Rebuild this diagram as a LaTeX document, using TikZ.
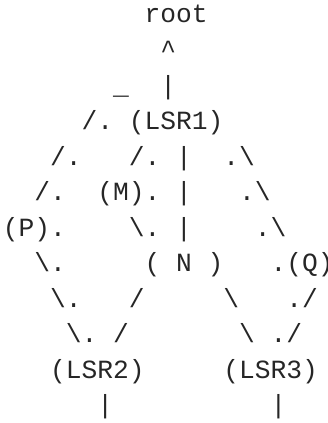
\documentclass[tikz,border=0pt]{standalone}
\usepackage{fontspec}
\setmonofont{Liberation Mono}
\begin{document}
% Monospaced tree of LSRs: one character cell is 15.75pt wide, one line 35.5pt high.
\begin{tikzpicture}[x=15.75pt, y=-35.5pt,
  txt/.style={anchor=base west, inner sep=0pt, outer sep=0pt,
              font=\ttfamily\fontsize{26.25pt}{35.5pt}\selectfont, text=black!85}]
\useasboundingbox (-2.9pt,23pt) rectangle (325.1pt,-400pt);
% row 0-3: root and LSR1
\node[txt] (root) at (9,0) {root};
\node[txt] (up)   at (10,1) {\textasciicircum};
\node[txt] (bar)  at (7,2) {\_};
\node[txt] (pipeA) at (10,2) {\textbar};
\node[txt] (slA) at (5,3) {/.};
\node[txt] (lsr1) at (8,3) {(LSR1)};
% rows 4-6: branches towards P, M, N and Q
\node[txt] (slB) at (3,4) {/.};
\node[txt] (slC) at (8,4) {/.};
\node[txt] (pipeB) at (11,4) {\textbar};
\node[txt] (bsA) at (14,4) {.\textbackslash};
\node[txt] (slD) at (2,5) {/.};
\node[txt] (m) at (6,5) {(M).};
\node[txt] (pipeC) at (11,5) {\textbar};
\node[txt] (bsB) at (15,5) {.\textbackslash};
\node[txt] (p) at (0,6) {(P).};
\node[txt] (bsC) at (8,6) {\textbackslash.};
\node[txt] (pipeD) at (11,6) {\textbar};
\node[txt] (bsD) at (16,6) {.\textbackslash};
% row 7: N and Q
\node[txt] (bsE) at (2,7) {\textbackslash.};
\node[txt] (n) at (9,7) {(\ N\ )};
\node[txt] (q) at (17,7) {.(Q)};
% rows 8-9: branches down to LSR2 and LSR3
\node[txt] (bsF) at (3,8) {\textbackslash.};
\node[txt] (slE) at (8,8) {/};
\node[txt] (bsG) at (14,8) {\textbackslash};
\node[txt] (slF) at (18,8) {./};
\node[txt] (bsH) at (4,9) {\textbackslash.};
\node[txt] (slG) at (7,9) {/};
\node[txt] (bsI) at (15,9) {\textbackslash};
\node[txt] (slH) at (17,9) {./};
% rows 10-11: leaves
\node[txt] (lsr2) at (3,10) {(LSR2)};
\node[txt] (lsr3) at (14,10) {(LSR3)};
\node[txt] (pipeE) at (6,11) {\textbar};
\node[txt] (pipeF) at (17,11) {\textbar};
\end{tikzpicture}
\end{document}
